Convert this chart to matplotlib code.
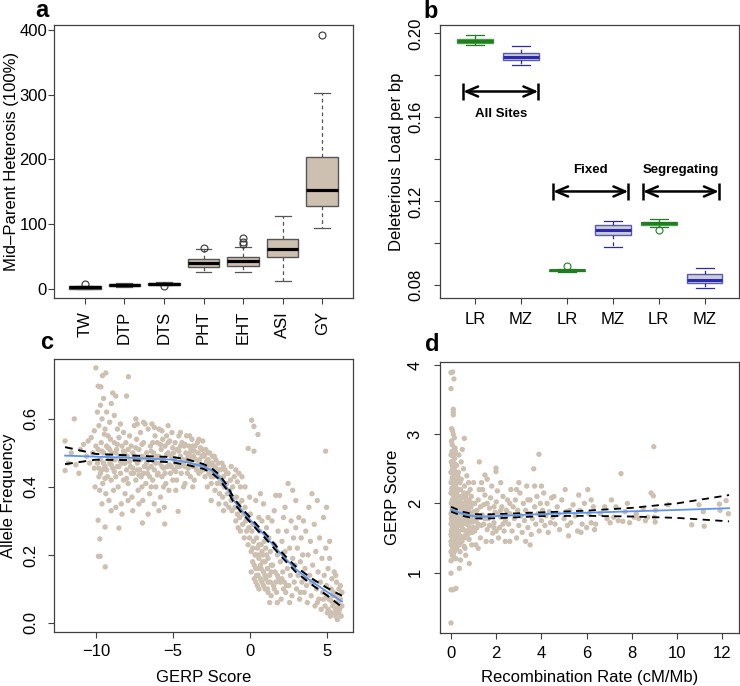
import matplotlib
matplotlib.use('Agg')
import numpy as np
import matplotlib.pyplot as plt

plt.rcParams['font.family'] = ['Liberation Sans', 'DejaVu Sans']
plt.rcParams['font.size'] = 12

tan = '#CDC0B0'
frame = '#404040'

#%% panel a data: mid-parent heterosis
traits = ['TW', 'DTP', 'DTS', 'PHT', 'EHT', 'ASI', 'GY']
a_q1 = [0.5, 4.6, 6.7, 33.5, 36, 49, 128]
a_med = [2.5, 6.2, 8.2, 39.6, 43, 61, 153]
a_q3 = [4.5, 7.7, 9.8, 46, 49, 77, 204]
a_lo = [0, 3.6, 5.7, 27, 26, 13, 94]
a_hi = [5, 9, 10.8, 62, 65, 113, 303]
a_out = [[7], [], [4.5], [64], [69, 73, 78], [], [392]]

#%% panel b data: deleterious load
b_labels = ['LR', 'MZ', 'LR', 'MZ', 'LR', 'MZ']
b_q1 = [0.1954, 0.1872, 0.0867, 0.1042, 0.1085, 0.0811]
b_med = [0.1964, 0.1889, 0.0871, 0.1065, 0.1095, 0.0825]
b_q3 = [0.1973, 0.1905, 0.0874, 0.1088, 0.1103, 0.0854]
b_lo = [0.1943, 0.1848, 0.0865, 0.0981, 0.1080, 0.0787]
b_hi = [0.1990, 0.1938, 0.0877, 0.1107, 0.1117, 0.0882]
b_out = [[], [], [0.0890], [], [0.1065], []]
grp_names = ['All Sites', 'Fixed', 'Segregating']
grp_from = [0.746, 2.705, 4.66]
grp_to = [2.38, 4.34, 6.31]
grp_y = [0.1723, 0.1247, 0.1247]
grp_text_y = [0.1615, 0.1350, 0.1350]

#%% panel c data: allele frequency vs GERP score
c_left = [(-12.0,0.535),(-12.0,0.448),(-11.8,0.47),(-11.6,0.50),(-11.4,0.60),(-11.3,0.465),(-11.1,0.44),
          (-11.0,0.51),(-10.8,0.525),(-10.6,0.49),(-10.5,0.535),(-10.4,0.47),(-10.3,0.545),(-10.2,0.50),
          (-10.1,0.455),(-10.0,0.75),(-10.05,0.40),(-10.0,0.52),(-10.1,0.565)]
c_far = [(-9.9,0.62),(-9.85,0.696),(-9.67,0.694),(-9.57,0.727),(-9.35,0.735),(-9.8,0.58),(-9.7,0.64),
         (-9.6,0.60),(-9.5,0.66),(-9.4,0.57),(-9.3,0.62),(-9.2,0.55),(-9.1,0.59),(-9.0,0.645),(-8.9,0.676),
         (-8.7,0.667),(-8.8,0.61),(-8.6,0.57),(-8.4,0.585),(-8.2,0.56),(-8.0,0.667),
         (-9.9,0.47),(-9.85,0.51),(-9.8,0.43),(-9.75,0.39),(-9.7,0.48),(-9.65,0.53),(-9.6,0.45),(-9.55,0.41),
         (-9.5,0.50),(-9.45,0.555),(-9.4,0.46),(-9.35,0.38),(-9.3,0.52),(-9.25,0.43),(-9.2,0.49),(-9.15,0.36),
         (-9.1,0.47),(-9.05,0.54),(-9.0,0.42),(-8.95,0.50),(-8.9,0.455),(-8.85,0.39),(-8.8,0.53),(-8.75,0.48),
         (-8.7,0.43),(-8.65,0.51),(-8.6,0.46),(-8.55,0.40),(-8.5,0.545),(-8.45,0.49),(-8.4,0.44),(-8.35,0.35),
         (-8.3,0.52),(-8.25,0.47),(-8.2,0.42),(-8.15,0.50),(-8.1,0.38),(-8.05,0.53),(-8.0,0.45),
         (-9.85,0.302),(-9.4,0.282),(-9.74,0.247),(-9.83,0.196),(-9.72,0.196),(-9.39,0.165),(-8.5,0.279),
         (-9.6,0.35),(-9.0,0.33),(-8.7,0.34),(-8.3,0.32)]
c_plateau = [(-7.95,0.49),(-7.9,0.41),(-7.88,0.724),(-7.8,0.55),(-7.75,0.46),(-7.7,0.52),(-7.65,0.37),
             (-7.6,0.50),(-7.55,0.44),(-7.5,0.58),(-7.45,0.48),(-7.4,0.60),(-7.4,0.42),(-7.35,0.54),(-7.3,0.47),
             (-7.25,0.39),(-7.2,0.51),(-7.15,0.45),(-7.1,0.56),(-7.05,0.43),(-7.0,0.49),(-6.97,0.294),(-6.95,0.36),
             (-6.9,0.53),(-6.85,0.46),(-6.8,0.585),(-6.75,0.41),(-6.7,0.50),(-6.65,0.44),(-6.6,0.57),(-6.55,0.48),
             (-6.5,0.38),(-6.45,0.52),(-6.4,0.46),(-6.35,0.585),(-6.3,0.42),(-6.25,0.50),(-6.2,0.45),(-6.15,0.55),
             (-6.1,0.40),(-6.05,0.49),(-6.0,0.53),(-5.95,0.44),(-5.9,0.57),(-5.85,0.47),(-5.8,0.37),(-5.75,0.51),
             (-5.7,0.43),(-5.65,0.54),(-5.6,0.48),(-5.55,0.34),(-5.52,0.291),(-5.5,0.52),(-5.45,0.41),(-5.4,0.55),
             (-5.35,0.46),(-5.3,0.50),(-5.25,0.39),(-5.2,0.535),(-5.15,0.44),(-5.1,0.49),(-5.05,0.56),(-5.0,0.42),
             (-7.6,0.33),(-7.2,0.35),(-6.6,0.32),(-6.2,0.35),(-5.9,0.33),(-7.9,0.36),(-7.0,0.40),(-6.4,0.40),
             (-5.6,0.40),(-7.3,0.585),(-6.9,0.59),(-6.2,0.575),(-5.7,0.565),(-5.3,0.58),
             (-4.95,0.50),(-4.9,0.45),(-4.85,0.53),(-4.8,0.47),(-4.75,0.42),(-4.7,0.51),(-4.65,0.328),(-4.6,0.55),
             (-4.55,0.46),(-4.5,0.49),(-4.45,0.44),(-4.4,0.53),(-4.35,0.48),(-4.3,0.40),(-4.25,0.52),(-4.2,0.46),
             (-4.15,0.50),(-4.1,0.55),(-4.05,0.44),(-4.0,0.49),(-3.95,0.52),(-3.9,0.47),(-3.85,0.43),(-3.8,0.51),
             (-3.75,0.54),(-3.7,0.46),(-3.65,0.49),(-3.6,0.42),(-3.55,0.52),(-3.5,0.48),(-3.45,0.45),(-3.4,0.53),
             (-3.35,0.50),(-3.3,0.44),(-3.25,0.48),(-3.2,0.515),(-3.15,0.46),(-3.1,0.49),(-3.05,0.535),(-3.0,0.45),
             (-4.8,0.39),(-4.2,0.41),(-3.7,0.40),(-4.5,0.56),(-3.9,0.55),(-3.3,0.54)]
c_core = [(-9.8,0.455),(-9.6,0.505),(-9.4,0.425),(-9.2,0.515),(-9.0,0.465),(-8.8,0.445),(-8.6,0.525),
          (-8.4,0.475),(-8.2,0.505),(-8.0,0.425),(-7.8,0.475),(-7.6,0.455),(-7.4,0.515),(-7.2,0.435),
          (-7.0,0.525),(-6.8,0.485),(-6.6,0.455),(-6.4,0.505),(-6.2,0.475),(-6.0,0.435),(-5.8,0.525),
          (-5.6,0.455),(-5.4,0.495),(-5.2,0.465),(-5.0,0.515),(-4.8,0.445),(-4.6,0.505),(-4.4,0.465),
          (-4.2,0.525),(-4.0,0.455),(-3.8,0.485),(-3.6,0.505),(-3.4,0.465),(-3.2,0.445),(-3.0,0.495),
          (-2.8,0.475),(-2.6,0.465),(-2.4,0.445),(-2.2,0.455),
          (-9.7,0.44),(-9.5,0.47),(-9.3,0.45),(-9.1,0.51),(-8.9,0.48),(-8.7,0.50),(-8.5,0.46),(-8.3,0.49),
          (-8.1,0.47),(-7.9,0.51),(-7.7,0.44),(-7.5,0.49),(-7.3,0.45),(-7.1,0.48),(-6.9,0.44),(-6.7,0.47),
          (-6.5,0.43),(-6.3,0.53),(-6.1,0.47),(-5.9,0.49),(-5.7,0.46),(-5.5,0.44),(-5.3,0.53),(-5.1,0.46),
          (-4.9,0.48),(-4.7,0.46),(-4.5,0.52),(-4.3,0.47),(-4.1,0.48),(-3.9,0.50),(-3.7,0.52),(-3.5,0.46),
          (-3.3,0.47),(-3.1,0.51),(-2.9,0.46),(-2.7,0.50),(-2.5,0.43),(-2.3,0.49),(-2.1,0.45),(-1.9,0.42),
          (-1.7,0.46),(-1.5,0.44),
          (0.2,0.22),(0.4,0.20),(0.6,0.16),(0.8,0.21),(1.0,0.14),(1.2,0.12),(1.4,0.15),(1.6,0.10),
          (1.8,0.14),(2.0,0.12),(2.2,0.10),(5.6,0.04),(5.8,0.07),(5.4,0.08),(5.0,0.08),(4.8,0.07),
          (0.4,0.12),(0.7,0.13),(1.0,0.10),(1.3,0.06),(1.7,0.12),(2.1,0.13),(2.4,0.11),(0.6,0.23),
          (1.1,0.20),(3.3,0.09),(3.6,0.13),(4.0,0.12),(4.4,0.06),(5.3,0.03),(5.6,0.02),(5.9,0.05)]
c_drop = [(-2.95,0.49),(-2.9,0.43),(-2.85,0.51),(-2.8,0.46),(-2.75,0.40),(-2.7,0.48),(-2.65,0.44),(-2.6,0.50),
          (-2.55,0.45),(-2.5,0.41),(-2.45,0.47),(-2.4,0.49),(-2.35,0.43),(-2.3,0.46),(-2.25,0.39),(-2.2,0.48),
          (-2.15,0.44),(-2.1,0.41),(-2.05,0.47),(-2.0,0.43),(-1.95,0.38),(-1.9,0.45),(-1.85,0.41),(-1.8,0.47),
          (-1.75,0.37),(-1.7,0.43),(-1.65,0.40),(-1.6,0.45),(-1.55,0.35),(-1.5,0.41),(-1.45,0.38),(-1.4,0.44),
          (-1.35,0.34),(-1.3,0.39),(-1.25,0.42),(-1.2,0.36),(-1.15,0.33),(-1.1,0.40),(-1.05,0.37),(-1.0,0.43),
          (-1.2,0.46),(-0.9,0.45),(-0.7,0.44),(-0.5,0.43),(-0.8,0.415),(-0.6,0.40),(-2.5,0.36),(-2.0,0.35),
          (-1.7,0.33),
          (-0.95,0.34),(-0.9,0.30),(-0.85,0.37),(-0.8,0.32),(-0.75,0.28),(-0.7,0.35),(-0.65,0.31),(-0.6,0.27),
          (-0.55,0.33),(-0.5,0.36),(-0.45,0.29),(-0.4,0.32),(-0.35,0.25),(-0.3,0.34),(-0.25,0.30),(-0.2,0.27),
          (-0.15,0.31),(-0.1,0.23),(-0.09,0.513),(-0.05,0.28),(0.0,0.25),(0.05,0.32),(0.1,0.21),(0.13,0.596),
          (0.15,0.27),(0.2,0.18),(0.25,0.24),(0.28,0.578),(0.28,0.505),(0.3,0.29),(0.35,0.20),(0.4,0.16),
          (0.45,0.25),(0.5,0.22),(0.54,0.554),(0.55,0.14),(0.6,0.19),(0.65,0.27),(0.7,0.17),(0.75,0.23),
          (0.8,0.12),(0.85,0.20),(0.9,0.15),(0.95,0.24),(1.0,0.18),(0.1,0.15),(0.3,0.13),(0.5,0.11),(0.2,0.29),
          (0.6,0.31),(0.8,0.30),(0.4,0.36),(0.7,0.38),(0.9,0.35),(-0.3,0.40),(0.0,0.37),
          (0.3,0.17),(0.45,0.14),(0.6,0.10),(0.75,0.16),(0.9,0.11),(1.05,0.13),(1.2,0.09),(1.35,0.12),
          (0.55,0.20),(0.85,0.18),(1.15,0.16),(1.4,0.17)]
c_tail = [(1.05,0.22),(1.1,0.28),(1.15,0.10),(1.2,0.19),(1.25,0.25),(1.3,0.14),(1.35,0.21),(1.4,0.08),
          (1.45,0.30),(1.5,0.17),(1.55,0.11),(1.6,0.23),(1.65,0.15),(1.7,0.375),(1.75,0.09),(1.8,0.20),
          (1.85,0.27),(1.9,0.13),(1.95,0.375),(2.0,0.18),(2.05,0.07),(2.1,0.24),(2.15,0.15),(2.2,0.31),
          (2.25,0.12),(2.3,0.21),(2.35,0.09),(2.4,0.27),(2.45,0.16),(2.5,0.41),(2.55,0.11),(2.6,0.22),
          (2.65,0.14),(2.7,0.30),(2.75,0.08),(2.8,0.19),(2.85,0.25),(2.9,0.12),(2.95,0.17),(3.0,0.28),
          (1.2,0.31),(1.6,0.33),(2.3,0.34),(2.8,0.39),(3.0,0.36),(1.8,0.06),(2.6,0.06),
          (3.05,0.10),(3.1,0.22),(3.15,0.14),(3.2,0.31),(3.25,0.07),(3.3,0.18),(3.35,0.25),(3.4,0.12),
          (3.45,0.20),(3.5,0.30),(3.55,0.09),(3.6,0.16),(3.65,0.27),(3.7,0.11),(3.75,0.06),(3.8,0.20),
          (3.85,0.34),(3.9,0.14),(3.95,0.24),(4.0,0.08),(4.05,0.38),(4.1,0.17),(4.15,0.12),(4.2,0.29),
          (4.25,0.05),(4.3,0.21),(4.35,0.10),(4.4,0.36),(4.45,0.15),(4.5,0.07),(4.55,0.25),(4.6,0.12),
          (4.65,0.04),(4.7,0.19),(4.75,0.09),(4.8,0.31),(4.85,0.14),(4.9,0.05),(4.94,0.505),(4.95,0.22),
          (5.0,0.34),(5.0,0.11),(5.05,0.03),(5.1,0.16),(5.15,0.07),(5.2,0.24),(5.25,0.02),(5.3,0.10),
          (5.35,0.13),(5.4,0.05),(5.45,0.09),(5.5,0.15),(5.55,0.03),(5.6,0.08),(5.65,0.12),(5.7,0.01),
          (5.75,0.06),(5.8,0.10),(5.85,0.04),(5.9,0.07),(5.95,0.02),(6.0,0.09),(6.0,0.05),(5.7,0.045),
          (5.5,0.06),(5.3,0.065),(5.1,0.04),(5.8,0.03),(5.9,0.11),(5.6,0.14),(5.2,0.19)]
# loess fit and its band
c_fit_x = [-12, -10, -8, -6, -5, -4, -3, -2.5, -2, -1.5, -1, -0.5, 0, 0.5, 1, 2, 2.5, 3, 4, 5, 6]
c_fit = [0.492, 0.489, 0.486, 0.482, 0.480, 0.472, 0.460, 0.449, 0.430, 0.400, 0.358, 0.330, 0.305,
         0.280, 0.257, 0.205, 0.181, 0.158, 0.123, 0.093, 0.063]
c_upper = [0.517, 0.497, 0.493, 0.489, 0.488, 0.480, 0.467, 0.456, 0.437, 0.407, 0.365, 0.337, 0.312,
           0.287, 0.264, 0.212, 0.188, 0.166, 0.132, 0.104, 0.080]
c_lower = [0.467, 0.480, 0.479, 0.475, 0.472, 0.464, 0.453, 0.442, 0.423, 0.393, 0.351, 0.323, 0.298,
           0.273, 0.250, 0.198, 0.174, 0.150, 0.114, 0.082, 0.047]

#%% panel d data: GERP score vs recombination rate
d_zero = [(0.0,1.45),(0.02,1.6),(0.04,1.75),(0.06,1.9),(0.08,2.05),(0.1,2.2),(0.12,2.35),(0.14,2.5),
          (0.16,2.65),(0.18,2.8),(0.0,1.3),(0.03,1.52),(0.05,1.68),(0.07,1.82),(0.09,1.97),(0.11,2.12),
          (0.13,2.27),(0.15,2.42),(0.17,2.57),(0.19,2.72),(0.01,2.0),(0.02,2.15),(0.0,2.3),(0.03,2.45),
          (0.01,2.6),(0.04,2.75),(0.02,2.9),(0.05,1.25),(0.2,1.35),(0.22,1.5),(0.24,1.65),(0.26,1.8),
          (0.28,1.95),(0.3,2.1),(0.21,2.25),(0.23,2.4),(0.25,2.55),(0.27,1.42),(0.29,1.58),(0.12,1.4),
          (0.14,1.55),(0.16,1.7),(0.18,1.85),(0.2,2.0),(0.08,1.35),(0.1,1.5),(0.06,2.6),(0.1,2.68),
          (0.13,1.2),(0.15,1.3),(0.07,3.9),(0.0,3.89),(0.13,3.8),(0.0,3.66),(0.1,3.36),(0.1,3.32),(0.1,3.28),
          (0.03,3.08),(0.07,3.05),(0.1,3.0),(0.0,0.99),(0.0,0.75),(0.1,0.75),(0.22,0.77),(0.0,0.27),
          (0.37,1.06),(0.81,1.13),(0.0,1.17),(0.22,1.2),(0.05,2.85),(0.15,2.95),(0.2,2.75),
          (0.01,1.4),(0.03,1.62),(0.05,1.95),(0.07,2.38),(0.09,1.72),(0.11,1.88),(0.13,2.05),(0.15,1.62),
          (0.17,1.95),(0.19,2.2),(0.04,2.22),(0.06,2.48),(0.08,1.58),(0.24,1.9),(0.26,2.15),(0.28,2.35)]
d_core = [(0.02,1.78),(0.04,1.88),(0.06,1.72),(0.08,1.92),(0.1,1.8),(0.12,1.66),(0.14,1.95),(0.16,1.78),
          (0.18,2.08),(0.2,1.65),(0.22,1.85),(0.24,2.05),(0.26,1.6),(0.28,1.75),(0.3,1.95),(0.35,1.85),
          (0.4,1.68),(0.45,1.95),(0.5,1.75),(0.55,1.62),(0.6,2.0),(0.65,1.8),(0.7,1.95),(0.75,1.7),
          (0.8,1.88),(0.01,2.45),(0.05,2.35),(0.09,2.5),(0.02,1.55),(0.06,1.45),(1.1,1.85),(1.3,1.95),
          (1.5,1.78),(1.7,1.82),(1.9,1.65),(1.2,1.7),(1.6,2.0),(2.2,1.9),(2.6,2.0),(3.4,2.05),
          (0.0,1.55),(0.0,1.7),(0.0,1.85),(0.0,2.15),(0.0,2.45),(0.0,2.7),(0.05,1.4),(0.05,1.58),
          (0.05,1.82),(0.05,2.05),(0.05,2.2),(0.05,2.55),(0.1,1.25),(0.1,1.62),(0.1,1.95),(0.1,2.32),
          (0.1,2.58),(0.15,1.45),(0.15,1.85),(0.15,2.1),(0.15,2.3),(0.15,2.8),(0.2,1.5),(0.2,1.75),
          (0.2,2.15),(0.2,2.45),(0.25,1.35),(0.25,1.7),(0.25,2.0),(0.25,2.3),(0.3,1.5),(0.3,1.8),(0.3,2.4),
          (0.35,1.55),(0.35,2.0),(0.35,2.2),(0.4,1.45),(0.4,1.85),(0.4,2.3),(0.45,1.7),(0.45,2.1),
          (0.5,1.95),(0.55,1.8),(0.6,1.5),(0.65,2.1),(0.75,1.55),(0.85,2.2),(0.95,1.8)]
d_low = [(0.32,1.6),(0.35,1.75),(0.38,1.9),(0.4,2.05),(0.42,2.2),(0.45,2.35),(0.48,1.45),(0.5,1.62),
         (0.52,1.78),(0.55,1.93),(0.58,2.08),(0.6,2.25),(0.62,1.35),(0.65,1.55),(0.68,1.7),(0.7,1.85),
         (0.72,2.0),(0.75,2.15),(0.78,2.3),(0.8,1.48),(0.82,1.65),(0.85,1.8),(0.88,1.95),(0.9,2.1),
         (0.92,1.4),(0.95,1.58),(0.98,1.73),(1.0,1.88),(0.33,2.45),(0.36,1.4),(0.4,1.3),(0.44,1.52),
         (0.47,1.68),(0.5,1.85),(0.53,2.0),(0.57,2.15),(0.6,1.72),(0.63,1.88),(0.66,2.02),(0.7,1.6),
         (0.73,1.77),(0.77,1.92),(0.8,2.05),(0.84,1.58),(0.87,1.73),(0.9,1.85),(0.94,2.0),(0.97,1.65),
         (0.59,2.94),(0.45,2.6),(0.55,2.5),(0.7,2.4),(0.35,2.7),(0.5,2.78),(0.42,1.18),(0.65,1.25),
         (0.58,1.38),
         (1.05,1.6),(1.1,1.75),(1.15,1.9),(1.2,2.05),(1.25,2.2),(1.25,2.6),(1.3,1.5),(1.35,1.68),(1.4,1.83),
         (1.45,1.98),(1.5,2.41),(1.5,2.12),(1.55,1.45),(1.6,1.62),(1.65,1.78),(1.7,1.93),(1.75,2.08),
         (1.8,2.25),(1.85,1.57),(1.9,1.72),(1.95,1.87),(1.99,2.51),(1.99,2.46),(2.0,2.02),(2.05,2.18),
         (2.1,1.5),(2.15,1.65),(2.2,1.8),(2.25,1.95),(2.3,2.1),(2.35,1.6),(2.4,1.75),(2.45,1.9),(2.5,2.05),
         (1.1,1.4),(1.2,1.35),(1.35,2.3),(1.6,2.35),(2.2,2.3),(1.15,1.65),(1.3,1.8),(1.45,1.7),(1.7,1.68),
         (1.9,1.95),(2.1,1.85),(2.3,1.7),(1.05,2.0),(1.4,2.2),(1.0,2.3),(1.8,1.45),(2.4,1.45),(2.0,1.6)]
d_mid = [(2.55,1.7),(2.6,1.85),(2.65,2.2),(2.7,1.6),(2.75,1.95),(2.8,1.78),(2.85,2.05),(2.9,1.5),
         (2.95,1.9),(3.0,1.68),(3.05,2.15),(3.1,1.82),(3.15,1.58),(3.2,2.0),(3.25,1.75),(3.3,1.9),(3.35,2.25),
         (3.4,1.65),(3.45,1.85),(3.5,2.05),(3.55,1.55),(3.6,1.78),(3.66,2.5),(3.7,1.95),(3.75,1.7),(3.8,2.1),
         (3.85,1.85),(3.89,2.71),(3.9,1.6),(3.95,2.0),(4.0,1.75),(4.05,1.9),(4.1,2.15),(4.15,1.68),(4.2,1.82),
         (4.25,2.0),(4.3,1.58),(4.35,1.88),(4.4,1.72),(4.45,2.08),(4.5,1.8),(2.6,1.45),(3.0,2.3),(3.3,1.45),
         (3.7,2.25),(2.9,2.2),(3.5,1.4),(4.0,2.25),
         (4.6,1.7),(4.7,1.95),(4.8,1.62),(4.9,2.05),(5.0,1.78),(5.05,2.2),(5.1,1.88),(5.2,1.53),(5.3,1.72),
         (5.4,1.98),(5.5,1.82),(5.6,1.6),(5.7,1.9),(5.8,1.7),(5.9,2.0),(6.0,1.65),(6.05,2.2),(6.1,1.85),
         (6.2,1.72),(6.3,1.95),(6.4,1.7),(4.75,1.85),(5.25,1.9),(5.75,1.58),(6.2,2.05),(4.55,2.1),(5.15,1.68),
         (5.65,2.12),(6.35,1.62)]
d_high = [(6.6,1.85),(6.8,1.95),(7.04,1.72),(7.2,1.8),(7.3,1.95),(7.4,1.75),(7.52,2.43),(7.6,1.74),
          (7.7,1.88),(7.8,2.0),(7.9,1.72),(8.1,1.8),(8.3,1.78),(8.5,1.92),(8.7,1.8),(8.85,2.15),(8.95,2.11),
          (8.97,2.82),(9.03,1.73),(9.05,1.9),(9.6,1.98),(10.65,1.69),(10.97,1.98),(11.16,1.88),(11.2,1.67),
          (11.87,1.99),(12.17,2.04),(12.27,1.85),(11.9,1.9),(8.2,1.85),(7.1,2.05),(6.9,1.78),(8.6,1.75),(9.0,1.8)]
d_fit_x = [0, 0.5, 1, 1.5, 2, 4, 6, 8, 10, 12.3]
d_fit = [1.91, 1.85, 1.815, 1.81, 1.815, 1.845, 1.865, 1.885, 1.905, 1.93]
d_upper = [1.95, 1.88, 1.845, 1.84, 1.845, 1.87, 1.895, 1.935, 2.00, 2.12]
d_lower = [1.88, 1.82, 1.785, 1.78, 1.785, 1.815, 1.82, 1.81, 1.79, 1.74]

fig = plt.figure(figsize=(7.4, 6.86), dpi=100)
ax_a = fig.add_axes([54/740, 1-298/686, 299/740, 273/686])
ax_b = fig.add_axes([440/740, 1-298/686, 299/740, 273/686])
ax_c = fig.add_axes([54/740, 1-632/686, 299/740, 273/686])
ax_d = fig.add_axes([440/740, 1-633/686, 299/740, 271/686])

for ax in (ax_a, ax_b, ax_c, ax_d):
    for s in ax.spines.values():
        s.set_color(frame)
        s.set_linewidth(0.9)
    ax.tick_params(direction='out', length=4.5, width=0.8, color=frame, labelsize=12)

#%% a
stats_a = [dict(med=a_med[i], q1=a_q1[i], q3=a_q3[i], whislo=a_lo[i], whishi=a_hi[i], fliers=a_out[i])
           for i in range(len(traits))]
ax_a.bxp(stats_a, positions=range(1, 8), widths=0.8, capwidths=0.4, patch_artist=True,
         boxprops=dict(facecolor=tan, edgecolor='#555555', lw=1),
         whiskerprops=dict(color='#555555', lw=0.9, ls=(0, (3, 2.5))),
         capprops=dict(color='#555555', lw=0.9),
         medianprops=dict(color='k', lw=2.3),
         flierprops=dict(marker='o', mfc='none', mec='#333333', ms=5, mew=0.8))
ax_a.set_xlim(0.22, 7.78)
ax_a.set_ylim(-13.9, 407.7)
ax_a.set_xticks(range(1, 8))
ax_a.set_xticklabels(traits, rotation=90)
ax_a.set_yticks([0, 100, 200, 300, 400])
ax_a.tick_params(axis='y', pad=0.5)
ax_a.tick_params(axis='x', pad=5)
ax_a.set_ylabel('Mid\u2013Parent Heterosis (100%)')
ax_a.yaxis.set_label_coords(-0.118, 0.5)

#%% b
stats_b = [dict(med=b_med[i], q1=b_q1[i], q3=b_q3[i], whislo=b_lo[i], whishi=b_hi[i], fliers=b_out[i])
           for i in range(len(b_labels))]
cols_b = ['#1f7f1f', '#2a2ab0'] * 3
for i, st in enumerate(stats_b):
    c = cols_b[i]
    ax_b.bxp([st], positions=[i + 1], widths=0.78, capwidths=0.39, patch_artist=True,
             boxprops=dict(facecolor='#bebebe', edgecolor=c, lw=1, alpha=0.75),
             whiskerprops=dict(color=c, lw=0.9, ls=(0, (3, 2.5))),
             capprops=dict(color=c, lw=0.9),
             medianprops=dict(color=c, lw=2.2),
             flierprops=dict(marker='o', mfc='none', mec=c, ms=5, mew=0.8))
for k in range(3):
    ax_b.annotate('', xy=(grp_to[k], grp_y[k]), xytext=(grp_from[k], grp_y[k]),
                  arrowprops=dict(arrowstyle='<->,head_length=0.7,head_width=0.3', lw=1.8, color='k',
                                  shrinkA=0, shrinkB=0))
    ax_b.vlines([grp_from[k], grp_to[k]], grp_y[k] - 0.0041, grp_y[k] + 0.0041, color='k', lw=1.8)
    ax_b.text((grp_from[k] + grp_to[k]) / 2, grp_text_y[k], grp_names[k], ha='center', va='center',
              fontsize=9.5, fontweight='bold')
ax_b.set_xlim(0.24, 6.75)
ax_b.set_ylim(0.07398, 0.20396)
ax_b.set_xticks(range(1, 7))
ax_b.set_xticklabels(b_labels)
ax_b.set_yticks([0.08, 0.10, 0.12, 0.14, 0.16, 0.18, 0.20])
ax_b.set_yticklabels(['0.08', '', '0.12', '', '0.16', '', '0.20'], rotation=90, va='center')
ax_b.tick_params(axis='y', pad=7.5)
ax_b.tick_params(axis='x', pad=5.5)
ax_b.set_ylabel('Deleterious Load per bp')
ax_b.yaxis.set_label_coords(-0.12, 0.5)

#%% c
pts_c = np.array(c_left + c_far + c_plateau + c_core + c_drop + c_tail)
ax_c.scatter(pts_c[:, 0], pts_c[:, 1], s=15, color=tan, edgecolors='none', zorder=1)
ax_c.plot(c_fit_x, c_fit, color='#5b95ee', lw=1.3, zorder=3)
ax_c.plot(c_fit_x, c_upper, color='k', lw=1.4, ls=(0, (4, 3)), zorder=4)
ax_c.plot(c_fit_x, c_lower, color='k', lw=1.4, ls=(0, (4, 3)), zorder=4)
ax_c.set_xlim(-12.72, 6.72)
ax_c.set_ylim(-0.0265, 0.776)
ax_c.set_xticks([-10, -5, 0, 5])
ax_c.set_xticklabels(['\u221210', '\u22125', '0', '5'])
ax_c.set_yticks([0.0, 0.2, 0.4, 0.6])
ax_c.set_yticklabels(['0.0', '0.2', '0.4', '0.6'], rotation=90, va='center')
ax_c.tick_params(axis='y', pad=7)
ax_c.tick_params(axis='x', pad=4.5)
ax_c.set_xlabel('GERP Score')
ax_c.xaxis.set_label_coords(0.5, -0.139)
ax_c.set_ylabel('Allele Frequency')
ax_c.yaxis.set_label_coords(-0.127, 0.5)

#%% d
pts_d = np.array(d_zero + d_core + d_low + d_mid + d_high)
ax_d.scatter(pts_d[:, 0], pts_d[:, 1], s=15, color=tan, edgecolors='none', zorder=1)
ax_d.plot(d_fit_x, d_fit, color='#5b95ee', lw=1.3, zorder=3)
ax_d.plot(d_fit_x, d_upper, color='k', lw=1.3, ls=(0, (4, 3)), zorder=4)
ax_d.plot(d_fit_x, d_lower, color='k', lw=1.3, ls=(0, (4, 3)), zorder=4)
ax_d.set_xlim(-0.487, 12.74)
ax_d.set_ylim(0.125, 4.045)
ax_d.set_xticks(range(0, 13, 2))
ax_d.set_yticks([1, 2, 3, 4])
ax_d.set_yticklabels(['1', '2', '3', '4'], rotation=90, va='center')
ax_d.tick_params(axis='y', pad=8)
ax_d.tick_params(axis='x', pad=4.5)
ax_d.set_xlabel('Recombination Rate (cM/Mb)')
ax_d.xaxis.set_label_coords(0.5, -0.137)
ax_d.set_ylabel('GERP Score')
ax_d.yaxis.set_label_coords(-0.134, 0.5)

#%% panel letters
for lab, x, y in [('a', 42, 17), ('b', 431, 18), ('c', 47, 349), ('d', 432, 351)]:
    fig.text(x / 740, 1 - y / 686, lab, ha='center', va='baseline', fontsize=17, fontweight='bold')

fig.savefig('out.png', dpi=100)
